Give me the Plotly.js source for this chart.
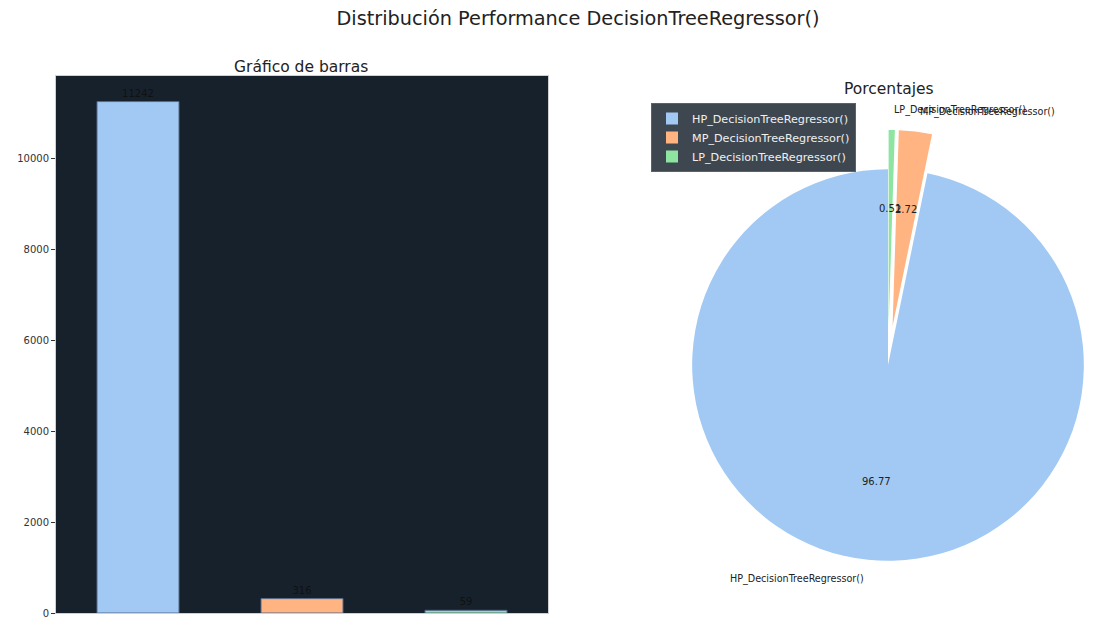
<!DOCTYPE html>
<html>
<head>
<meta charset="utf-8">
<script src="https://cdn.plot.ly/plotly-3.0.1.min.js"></script>
<style>
html, body { margin: 0; padding: 0; overflow: hidden; background: #ffffff; }
#chart { width: 1140px; height: 622px; }
</style>
</head>
<body>
<div id="chart"></div>
<script>
// ---- data ----
const categories = ['HP_DecisionTreeRegressor()', 'MP_DecisionTreeRegressor()', 'LP_DecisionTreeRegressor()'];
const counts = [11242, 316, 59];
const colors = ['#a1c9f4', '#ffb482', '#8de5a1'];
const explode = [0, 0.2, 0.2];
const yTicks = [0, 2000, 4000, 6000, 8000, 10000];
const mainTitle = 'Distribución Performance DecisionTreeRegressor()';
const barTitle = 'Gráfico de barras';
const pieTitle = 'Porcentajes';

// ---- geometry ----
const W = 1140, H = 622;
const font = 'DejaVu Sans, Verdana, sans-serif';
const pieCx = 888, pieCy = 365, pieSide = 470;
const pieDomX = [(pieCx - pieSide / 2) / W, (pieCx + pieSide / 2) / W];
const pieDomY = [(H - pieCy - pieSide / 2) / H, (H - pieCy + pieSide / 2) / H];
const maxPull = Math.max(...explode);
const pieR = pieSide / (2 + 2 * maxPull);

const total = counts.reduce((a, b) => a + b, 0);
const yMax = Math.max(...counts) * 1.05;
// matplotlib: startangle 90, counterclockwise -> first slice ends just right of 12 o'clock
const pieRotation = (1 - counts[0] / total) * 360;

const bar = {
  type: 'bar',
  x: categories,
  y: counts,
  width: 0.5,
  marker: { color: colors, line: { color: '#56698a', width: 1 } },
  text: counts.map(String),
  textposition: 'outside',
  cliponaxis: false,
  textfont: { family: font, size: 10, color: '#111111' },
  showlegend: false,
  hoverinfo: 'x+y',
  xaxis: 'x', yaxis: 'y'
};

const pie = {
  type: 'pie',
  labels: categories,
  values: counts,
  sort: false,
  direction: 'counterclockwise',
  rotation: pieRotation,
  pull: explode,
  marker: { colors: colors, line: { color: '#ffffff', width: 0 } },
  textinfo: 'none',
  domain: { x: pieDomX, y: pieDomY },
  showlegend: true
};

// matplotlib-style labels for pie, computed from the data
const annotations = [
  { text: barTitle, x: 301 / W, y: 1 - 67 / H, xref: 'paper', yref: 'paper', xanchor: 'center', yanchor: 'middle', showarrow: false, font: { family: font, size: 15.5, color: '#222' } },
  { text: pieTitle, x: 889 / W, y: 1 - 89 / H, xref: 'paper', yref: 'paper', xanchor: 'center', yanchor: 'middle', showarrow: false, font: { family: font, size: 15.5, color: '#222' } }
];
let ang = 90;
counts.forEach((v, i) => {
  const span = v / total * 360;
  const mid = (ang + span / 2) * Math.PI / 180;
  ang += span;
  const ox = pieCx + explode[i] * pieR * Math.cos(mid);
  const oy = pieCy - explode[i] * pieR * Math.sin(mid);
  const lx = ox + 1.1 * pieR * Math.cos(mid);
  const ly = oy - 1.1 * pieR * Math.sin(mid);
  const px = ox + 0.6 * pieR * Math.cos(mid);
  const py = oy - 0.6 * pieR * Math.sin(mid);
  annotations.push({ text: categories[i], x: lx / W, y: 1 - ly / H, xref: 'paper', yref: 'paper', xanchor: Math.cos(mid) > 0 ? 'left' : 'right', yanchor: 'middle', showarrow: false, font: { family: font, size: 9.6, color: '#222' } });
  annotations.push({ text: (v / total * 100).toFixed(2), x: px / W, y: 1 - py / H, xref: 'paper', yref: 'paper', xanchor: 'center', yanchor: 'middle', showarrow: false, font: { family: font, size: 10, color: '#222' } });
});

const layout = {
  width: W, height: H,
  margin: { l: 0, r: 0, t: 0, b: 0 },
  paper_bgcolor: '#ffffff',
  plot_bgcolor: '#16212c',
  font: { family: font, color: '#222' },
  title: { text: mainTitle, x: 578 / W, xanchor: 'center', y: 1 - 18 / H, yanchor: 'middle', yref: 'container', font: { family: font, size: 19.3, color: '#222' } },
  xaxis: {
    domain: [56 / W, 548 / W], range: [-0.5, 2.5], type: 'category',
    showticklabels: false, showgrid: false, zeroline: false,
    showline: true, linecolor: '#cfcfcf', linewidth: 1, mirror: true, anchor: 'y'
  },
  yaxis: {
    domain: [9 / H, 1 - 76 / H], range: [0, yMax],
    tickvals: yTicks, ticktext: yTicks.map(String),
    ticks: 'outside', ticklen: 4, tickcolor: '#333', tickfont: { family: font, size: 10, color: '#333' },
    showgrid: false, zeroline: false,
    showline: true, linecolor: '#cfcfcf', linewidth: 1, mirror: true, anchor: 'x'
  },
  legend: {
    x: 651 / W, xanchor: 'left', y: 1 - 103 / H, yanchor: 'top',
    bgcolor: '#3e4750', bordercolor: '#5a636c', borderwidth: 1,
    font: { family: font, size: 11.2, color: '#f0f0f0' },
    tracegroupgap: 0, itemwidth: 30
  },
  annotations: annotations,
  showlegend: true
};

Plotly.newPlot('chart', [bar, pie], layout, { displayModeBar: false, staticPlot: true });
</script>
</body>
</html>
